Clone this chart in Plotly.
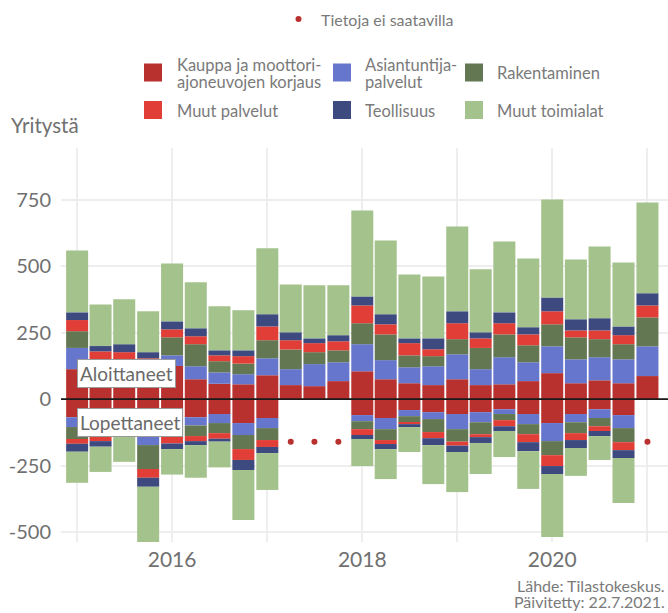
import plotly.graph_objects as go

# ---------------- data ----------------
years = [2015, 2016, 2017, 2018, 2019, 2020, 2021]
quarters = [f"{y}-{m:02d}-01" for y in years for m in (1, 4, 7, 10)][:25]

series_names = [
    "Kauppa ja moottori-ajoneuvojen korjaus",
    "Asiantuntijapalvelut",
    "Rakentaminen",
    "Muut palvelut",
    "Teollisuus",
    "Muut toimialat",
]

# Aloittaneet (started)
kauppa_alk = [113, 95, 95, 95, 125, 75, 58, 56, 90, 53, 49, 68, 105, 75, 60, 53, 75, 53, 56, 68, 98, 60, 71, 60, 87]
asiant_alk = [80, 35, 35, 20, 40, 49, 43, 38, 64, 60, 83, 71, 102, 72, 60, 71, 94, 60, 102, 71, 101, 90, 87, 90, 112]
rakent_alk = [63, 20, 17, 15, 68, 83, 42, 40, 68, 74, 45, 45, 79, 97, 45, 38, 57, 80, 86, 64, 83, 83, 68, 57, 109]
muutpalv_alk = [42, 30, 30, 24, 30, 30, 22, 28, 52, 35, 34, 34, 67, 38, 46, 26, 60, 36, 42, 41, 49, 26, 33, 34, 45]
teoll_alk = [29, 20, 30, 23, 30, 30, 19, 22, 46, 30, 18, 23, 34, 38, 18, 41, 45, 23, 41, 27, 52, 42, 46, 33, 46]
muuttoim_alk = [233, 157, 169, 154, 218, 173, 166, 151, 248, 180, 200, 188, 324, 278, 241, 233, 319, 237, 267, 259, 369, 225, 270, 241, 342]

# Lopettaneet (closed), None = data not available
N = None
kauppa_lop = [68, 70, 65, 100, 70, 68, 56, 90, 71, N, N, N, 60, 71, 41, 49, 56, 49, 38, 56, 90, 56, 38, 60, N]
asiant_lop = [37, 35, 25, 73, 30, 31, 34, 45, 38, N, N, N, 23, 42, 23, 26, 57, 38, 18, 38, 68, 31, 33, 49, N]
rakent_lop = [45, 33, 25, 90, 35, 40, 38, 53, 45, N, N, N, 30, 41, 23, 49, 47, 45, 23, 38, 53, 41, 31, 53, N]
muutpalv_lop = [18, 20, 15, 33, 32, 19, 21, 41, 26, N, N, N, 22, 15, 7, 23, 15, 11, 23, 30, 41, 26, 18, 30, N]
teoll_lop = [30, 21, 12, 34, 21, 15, 11, 38, 23, N, N, N, 15, 19, 11, 26, 24, 22, 18, 34, 30, 30, 19, 30, N]
muuttoim_lop = [117, 95, 94, 215, 96, 123, 97, 188, 139, N, N, N, 102, 113, 94, 147, 151, 117, 98, 142, 237, 105, 90, 169, N]

missing_level = -160

y_tickvals = [-500, -250, 0, 250, 500, 750]
y_ticktext = ["-500", "-250", "0", "250", "500", "750"]

colors = ["#B8312F", "#6576CC", "#637752", "#E03E36", "#3D4A80", "#A4C28B"]
legend_lines = [
    ["Kauppa ja moottori-", "ajoneuvojen korjaus"],
    ["Asiantuntija-", "palvelut"],
    ["Rakentaminen"],
    ["Muut palvelut"],
    ["Teollisuus"],
    ["Muut toimialat"],
]

alk = [kauppa_alk, asiant_alk, rakent_alk, muutpalv_alk, teoll_alk, muuttoim_alk]
lop = [kauppa_lop, asiant_lop, rakent_lop, muutpalv_lop, teoll_lop, muuttoim_lop]

# ---------------- figure ----------------
W, H = 668, 613
ML, MR, MT, MB = 61, 0, 148, 71
PW, PH = W - ML - MR, H - MT - MB


def px_x(x):
    return (x - ML) / PW


def px_y(y):
    return (H - MB - y) / PH


fig = go.Figure()
for name, col, a, l in zip(series_names, colors, alk, lop):
    fig.add_trace(go.Bar(x=quarters, y=a, name=name, marker=dict(color=col, line=dict(width=0)),
                         showlegend=False))
    fig.add_trace(go.Bar(x=quarters, y=[(-v if v is not None else None) for v in l], name=name,
                         marker=dict(color=col, line=dict(width=0)), showlegend=False))

miss_x = [q for q, v in zip(quarters, kauppa_lop) if v is None]
fig.add_trace(go.Scatter(x=miss_x, y=[missing_level] * len(miss_x), mode="markers",
                         marker=dict(color="#B8312F", size=6), name="Tietoja ei saatavilla",
                         showlegend=False))

font_family = "Lato"
txt = "#707070"
grid = "#eeeeee"

fig.update_layout(
    width=W, height=H,
    margin=dict(l=ML, r=MR, t=MT, b=MB),
    barmode="relative", bargap=0.06,
    plot_bgcolor="white", paper_bgcolor="white",
    font=dict(family=font_family, color=txt),
    showlegend=False,
)
fig.update_xaxes(
    type="date", range=["2014-10-31", "2021-03-21"],
    dtick="M24", tick0="2016-01-01", tickformat="%Y",
    showgrid=True, gridcolor=grid, gridwidth=1.5,
    minor=dict(dtick="M12", tick0="2015-01-01", showgrid=True, gridcolor=grid, gridwidth=1.5),
    ticks="", zeroline=False, showline=False,
    tickfont=dict(size=21, color=txt, family=font_family),
    ticklabelstandoff=3,
)
fig.update_yaxes(
    range=[-538, 946], tickvals=y_tickvals, ticktext=y_ticktext,
    showgrid=True, gridcolor=grid, gridwidth=1.5,
    zeroline=False, showline=False, ticks="",
    tickfont=dict(size=20, color=txt, family=font_family),
    ticklabelstandoff=9,
)

shapes = [dict(type="line", xref="paper", yref="y", x0=0, x1=1, y0=0, y1=0,
               line=dict(color="#1a1a1a", width=1.6), layer="above")]
annotations = []

# y axis title
annotations.append(dict(text="Yritystä", xref="paper", yref="paper", x=px_x(9), y=px_y(125),
                        xanchor="left", yanchor="middle", showarrow=False,
                        font=dict(size=20.5, color=txt, family=font_family)))

# manual legend
col_sq = [144, 333, 465]
col_tx = [175, 363, 495]
rows_sq = [(63.5, 81.5), (101, 119)]
for i, (lines, col) in enumerate(zip(legend_lines, colors)):
    r, c = divmod(i, 3)
    y0, y1 = rows_sq[r]
    shapes.append(dict(type="rect", xref="paper", yref="paper",
                       x0=px_x(col_sq[c]), x1=px_x(col_sq[c] + 18),
                       y0=px_y(y1), y1=px_y(y0), fillcolor=col, line=dict(width=0)))
    if len(lines) == 2:
        ys = [65, 81.5]
    else:
        ys = [(y0 + y1) / 2 + 1]
    for t, yy in zip(lines, ys):
        annotations.append(dict(text=t, xref="paper", yref="paper", x=px_x(col_tx[c]), y=px_y(yy),
                                xanchor="left", yanchor="middle", showarrow=False,
                                font=dict(size=16.5, color="#7a7a7a", family=font_family)))

# missing-data legend
shapes.append(dict(type="circle", xref="paper", yref="paper",
                   x0=px_x(295.5), x1=px_x(301.5), y0=px_y(22), y1=px_y(16),
                   fillcolor="#B8312F", line=dict(width=0)))
annotations.append(dict(text="Tietoja ei saatavilla", xref="paper", yref="paper",
                        x=px_x(319), y=px_y(19), xanchor="left", yanchor="middle", showarrow=False,
                        font=dict(size=16, color="#7a7a7a", family=font_family)))

# in-chart labels
for label, yv in (("Aloittaneet", 95), ("Lopettaneet", -87)):
    annotations.append(dict(text=label, xref="x", yref="y", x=quarters[0], y=yv,
                            xanchor="left", yanchor="middle", showarrow=False,
                            bgcolor="white", bordercolor="#9a9a9a", borderwidth=1, borderpad=2,
                            font=dict(size=19, color="#6a6a6a", family=font_family)))

# source
for t, yy in (("Lähde: Tilastokeskus.", 585), ("Päivitetty: 22.7.2021.", 601)):
    annotations.append(dict(text=t, xref="paper", yref="paper", x=px_x(667), y=px_y(yy),
                            xanchor="right", yanchor="middle", showarrow=False,
                            font=dict(size=16, color="#7a7a7a", family=font_family)))

fig.update_layout(shapes=shapes, annotations=annotations)
fig.write_html("out.html", config={"displayModeBar": False},
               post_script="document.body.style.margin='0px';")
